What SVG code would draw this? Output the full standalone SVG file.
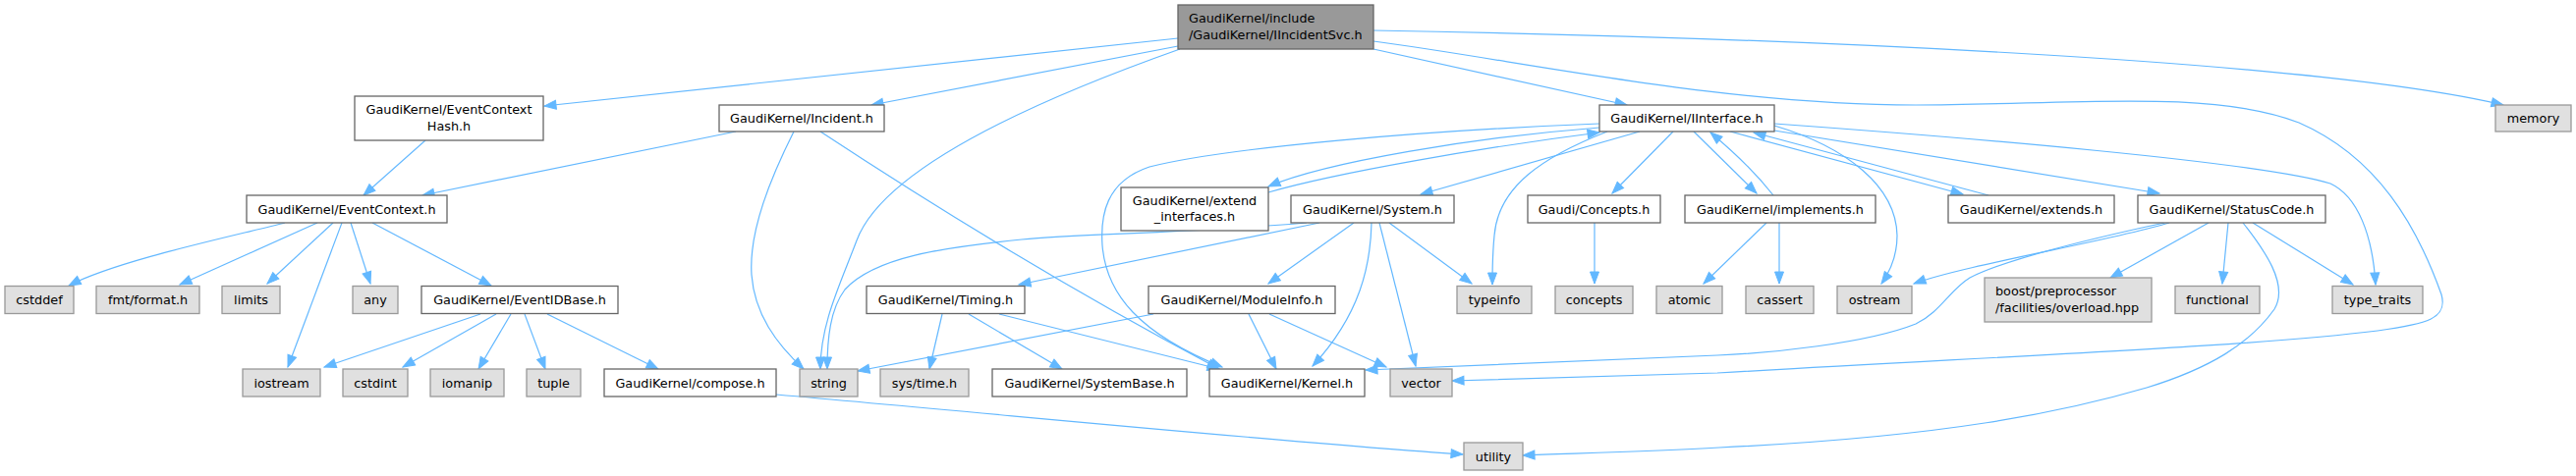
<svg xmlns="http://www.w3.org/2000/svg" width="2622" height="485" viewBox="0 0 2622 485">
<style>
text{font-family:"DejaVu Sans","Liberation Sans",sans-serif;font-size:12.8px;fill:#000}
.m{text-anchor:middle}
.w rect{fill:#fff;stroke:#666;stroke-width:1.3}
.g rect{fill:#e0e0e0;stroke:#999;stroke-width:1.3}
.r rect{fill:#999;stroke:#666;stroke-width:1.3}
#edges path{fill:none;stroke:#63B8FF;stroke-width:1.2;marker-end:url(#a)}
</style>
<defs>
<marker id="a" markerUnits="userSpaceOnUse" markerWidth="13" markerHeight="10" refX="12" refY="4.5" orient="auto" overflow="visible">
<path d="M0,0 L12,4.5 L0,9 Z" fill="#63B8FF" stroke="#63B8FF" stroke-width="1"/>
</marker>
</defs>
<rect width="2622" height="485" fill="#fff"/>
<g id="edges">
<path d="M1199,39 L554,108"/>
<path d="M1199,47 L887,107"/>
<path d="M1398,50 L1656,107"/>
<path d="M1398,31 C1800,38 2350,60 2548,107"/>
<path d="M1201,50 C1060,100 900,170 872,245 C855,290 835,330 835,376"/>
<path d="M1398,42 C1550,62 1750,107 1950,107 C2100,107 2250,90 2340,125 C2420,160 2460,230 2485,300 C2492,325 2470,330 2420,337 C2300,352 2100,360 1748,380 L1478,388"/>
<path d="M433,143 L370,199"/>
<path d="M749,134 L430,199"/>
<path d="M808,134 C785,180 762,235 765,280 C768,320 790,350 818,376"/>
<path d="M835,134 C920,190 1060,280 1241,376"/>
<path d="M290,227 C240,240 120,265 70,291"/>
<path d="M323,227 L183,290"/>
<path d="M339,227 L272,289"/>
<path d="M348,227 L293,374"/>
<path d="M357,227 L377,289"/>
<path d="M379,227 L500,291"/>
<path d="M489,320 L330,374"/>
<path d="M505,320 L410,374"/>
<path d="M520,320 L487,376"/>
<path d="M534,320 L555,376"/>
<path d="M557,320 L670,376"/>
<path d="M790,402 C1050,425 1300,450 1489,463"/>
<path d="M959,320 L946,376"/>
<path d="M986,320 L1081,376"/>
<path d="M1017,320 L1241,376"/>
<path d="M1174,320 L873,378"/>
<path d="M1271,320 L1299,376"/>
<path d="M1292,320 L1411,374"/>
<path d="M1343,227 L1037,290"/>
<path d="M1330,227 C1200,238 1100,238 1040,244 C960,252 890,262 860,295 C845,315 842,345 842,376"/>
<path d="M1378,227 L1291,289"/>
<path d="M1396,227 C1395,270 1385,320 1336,373"/>
<path d="M1404,227 L1441,373"/>
<path d="M1414,227 L1498,289"/>
<path d="M1628,126 C1450,133 1250,150 1170,170 C1125,185 1120,220 1122,250 C1126,300 1160,340 1244,374"/>
<path d="M1628,130 C1500,140 1350,165 1291,190"/>
<path d="M1291,196 C1360,176 1510,150 1628,135"/>
<path d="M1636,134 C1570,160 1525,190 1521,240 C1519,260 1519,275 1519,290"/>
<path d="M1669,134 L1446,198"/>
<path d="M1703,134 L1641,197"/>
<path d="M1724,134 L1788,197"/>
<path d="M1805,199 C1790,180 1765,155 1741,135"/>
<path d="M1761,134 L1998,198"/>
<path d="M2024,199 L1785,135"/>
<path d="M1806,128 C1880,150 1930,190 1931,240 C1931,260 1925,275 1915,289"/>
<path d="M1806,133 L2198,197"/>
<path d="M1806,126 C2000,140 2300,165 2372,187 C2400,200 2415,240 2418,290"/>
<path d="M1623,227 L1623,289"/>
<path d="M1798,227 L1734,289"/>
<path d="M1811,227 L1811,289"/>
<path d="M2208,227 C2150,245 2000,270 1948,289"/>
<path d="M2203,227 C2120,245 2040,265 2005,283 C1985,295 1975,318 1950,330 C1900,350 1800,360 1748,362 L1390,377"/>
<path d="M2248,227 L2148,283"/>
<path d="M2268,227 L2262,289"/>
<path d="M2293,227 L2395,290"/>
<path d="M2283,227 C2305,255 2330,290 2315,315 C2290,350 2250,375 2185,395 C2100,420 1980,445 1750,456 C1680,460 1600,462 1550,464"/>
</g>
<g id="root" class="r"><rect x="1199" y="5" width="199" height="45"/><text x="1210" y="23">GaudiKernel/include</text><text x="1210" y="39.5">/GaudiKernel/IIncidentSvc.h</text></g>
<g id="n_ech" class="w"><rect x="361" y="98" width="192" height="45"/><text class="m" x="457" y="116">GaudiKernel/EventContext</text><text class="m" x="457" y="132.5">Hash.h</text></g>
<g id="n_ec" class="w"><rect x="251" y="199" width="204" height="28"/><text class="m" x="353" y="217.5">GaudiKernel/EventContext.h</text></g>
<g id="n_incident" class="w"><rect x="732" y="107" width="168" height="27"/><text class="m" x="816" y="125">GaudiKernel/Incident.h</text></g>
<g id="n_memory" class="g"><rect x="2540" y="107" width="77" height="27"/><text class="m" x="2578.5" y="125">memory</text></g>
<g id="n_iinterface" class="w"><rect x="1628" y="107" width="178" height="27"/><text class="m" x="1717" y="125">GaudiKernel/IInterface.h</text></g>
<g id="n_extif" class="w"><rect x="1141" y="191" width="150" height="44"/><text class="m" x="1216" y="208.5">GaudiKernel/extend</text><text class="m" x="1216" y="225">_interfaces.h</text></g>
<g id="n_system" class="w"><rect x="1314" y="199" width="166" height="28"/><text class="m" x="1397" y="217.5">GaudiKernel/System.h</text></g>
<g id="n_concepts_h" class="w"><rect x="1555" y="199" width="135" height="28"/><text class="m" x="1622.5" y="217.5">Gaudi/Concepts.h</text></g>
<g id="n_implements" class="w"><rect x="1715" y="199" width="194" height="28"/><text class="m" x="1812" y="217.5">GaudiKernel/implements.h</text></g>
<g id="n_extends" class="w"><rect x="1983" y="199" width="169" height="28"/><text class="m" x="2067.5" y="217.5">GaudiKernel/extends.h</text></g>
<g id="n_statuscode" class="w"><rect x="2176" y="199" width="191" height="28"/><text class="m" x="2271.5" y="217.5">GaudiKernel/StatusCode.h</text></g>
<g id="n_cstddef" class="g"><rect x="5" y="291.5" width="70" height="28"/><text class="m" x="40" y="310">cstddef</text></g>
<g id="n_fmt" class="g"><rect x="98" y="291.5" width="105" height="28"/><text class="m" x="150.5" y="310">fmt/format.h</text></g>
<g id="n_limits" class="g"><rect x="226" y="291.5" width="59" height="28"/><text class="m" x="255.5" y="310">limits</text></g>
<g id="n_any" class="g"><rect x="359" y="291.5" width="46" height="28"/><text class="m" x="382" y="310">any</text></g>
<g id="n_eventidbase" class="w"><rect x="429" y="291.5" width="200" height="28"/><text class="m" x="529" y="310">GaudiKernel/EventIDBase.h</text></g>
<g id="n_timing" class="w"><rect x="882" y="291.5" width="161" height="28"/><text class="m" x="962.5" y="310">GaudiKernel/Timing.h</text></g>
<g id="n_moduleinfo" class="w"><rect x="1169" y="291.5" width="190" height="28"/><text class="m" x="1264" y="310">GaudiKernel/ModuleInfo.h</text></g>
<g id="n_typeinfo" class="g"><rect x="1483" y="291.5" width="76" height="28"/><text class="m" x="1521" y="310">typeinfo</text></g>
<g id="n_concepts" class="g"><rect x="1583" y="291.5" width="79" height="28"/><text class="m" x="1622.5" y="310">concepts</text></g>
<g id="n_atomic" class="g"><rect x="1686" y="291.5" width="67" height="28"/><text class="m" x="1719.5" y="310">atomic</text></g>
<g id="n_cassert" class="g"><rect x="1777" y="291.5" width="69" height="28"/><text class="m" x="1811.5" y="310">cassert</text></g>
<g id="n_ostream" class="g"><rect x="1870" y="291.5" width="76" height="28"/><text class="m" x="1908" y="310">ostream</text></g>
<g id="n_boost" class="g"><rect x="2020" y="283" width="170" height="45"/><text x="2031" y="301">boost/preprocessor</text><text x="2031" y="317.5">/facilities/overload.hpp</text></g>
<g id="n_functional" class="g"><rect x="2214" y="291.5" width="86" height="28"/><text class="m" x="2257" y="310">functional</text></g>
<g id="n_type_traits" class="g"><rect x="2374" y="291.5" width="92" height="28"/><text class="m" x="2420" y="310">type_traits</text></g>
<g id="n_iostream" class="g"><rect x="247" y="376" width="79" height="28"/><text class="m" x="286.5" y="394.5">iostream</text></g>
<g id="n_cstdint" class="g"><rect x="349" y="376" width="66" height="28"/><text class="m" x="382" y="394.5">cstdint</text></g>
<g id="n_iomanip" class="g"><rect x="438" y="376" width="75" height="28"/><text class="m" x="475.5" y="394.5">iomanip</text></g>
<g id="n_tuple" class="g"><rect x="536" y="376" width="55" height="28"/><text class="m" x="563.5" y="394.5">tuple</text></g>
<g id="n_compose" class="w"><rect x="615" y="376" width="175" height="28"/><text class="m" x="702.5" y="394.5">GaudiKernel/compose.h</text></g>
<g id="n_string" class="g"><rect x="814" y="376" width="59" height="28"/><text class="m" x="843.5" y="394.5">string</text></g>
<g id="n_systime" class="g"><rect x="896" y="376" width="90" height="28"/><text class="m" x="941" y="394.5">sys/time.h</text></g>
<g id="n_systembase" class="w"><rect x="1010" y="376" width="198" height="28"/><text class="m" x="1109" y="394.5">GaudiKernel/SystemBase.h</text></g>
<g id="n_kernel" class="w"><rect x="1231" y="376" width="158" height="28"/><text class="m" x="1310" y="394.5">GaudiKernel/Kernel.h</text></g>
<g id="n_vector" class="g"><rect x="1415" y="376" width="63" height="28"/><text class="m" x="1446.5" y="394.5">vector</text></g>
<g id="n_utility" class="g"><rect x="1490" y="451" width="60" height="28"/><text class="m" x="1520" y="469.5">utility</text></g>
</svg>
